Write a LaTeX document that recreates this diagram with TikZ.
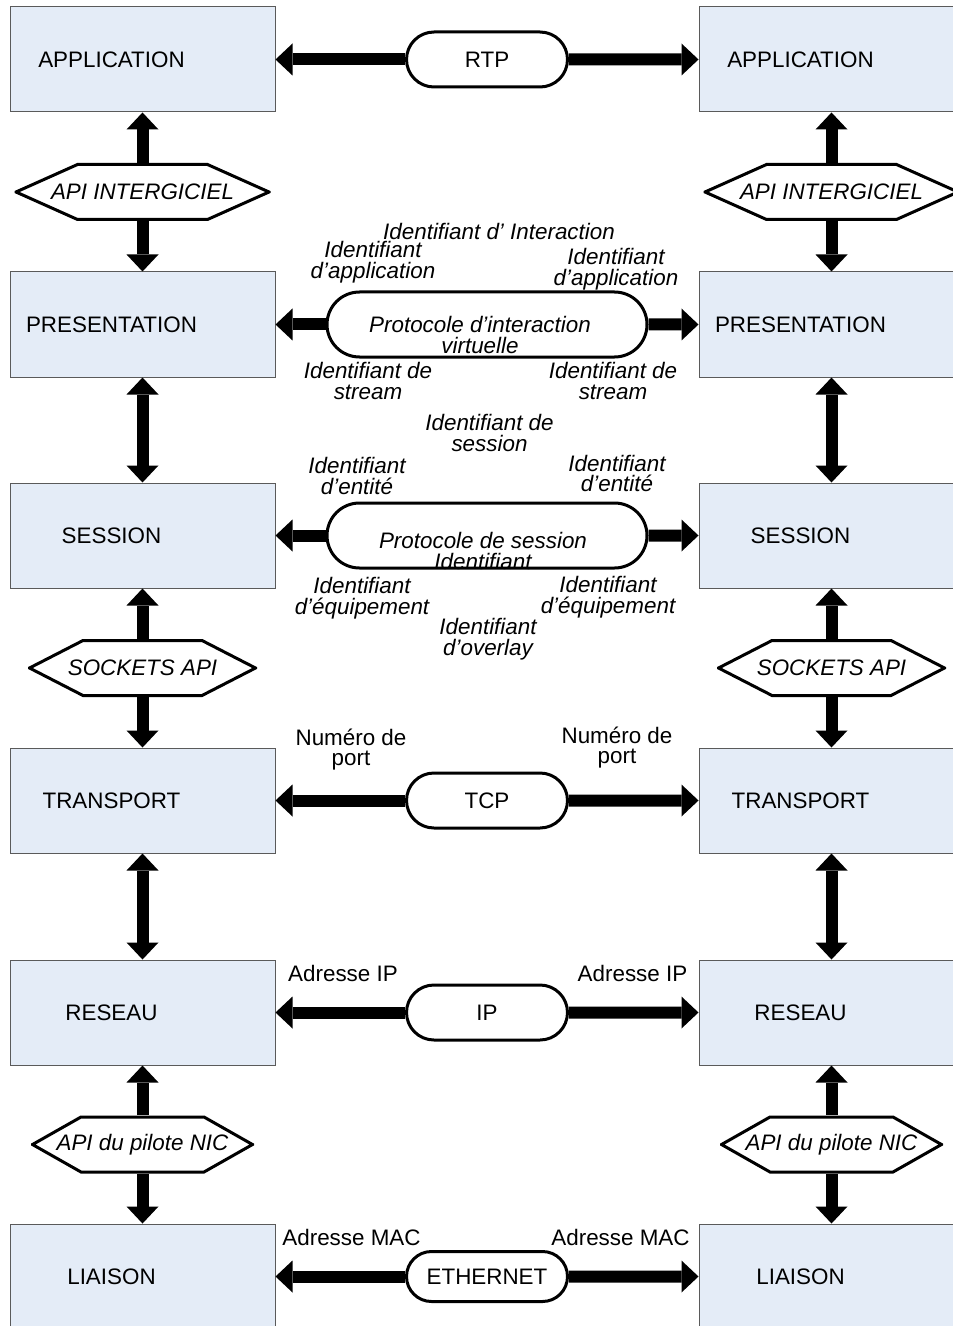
\documentclass[tikz,border=0pt]{standalone}
\usepackage{fontspec}
\setmainfont{Liberation Sans}
\usetikzlibrary{calc,positioning,arrows.meta,shapes.misc}
\definecolor{lyrfill}{RGB}{228,236,247}
\definecolor{lyrdraw}{RGB}{90,90,90}

\begin{document}
\begin{tikzpicture}[x=0.5pt,y=-0.5pt,font=\fontsize{11.2}{10.4}\selectfont]
\tikzstyle{lyr}=[draw=lyrdraw, line width=0.5pt, fill=lyrfill, minimum width=132.5pt, minimum height=52.5pt, inner sep=0pt, execute at end node={\hspace*{31pt}}]
\tikzstyle{proto}=[draw, rounded rectangle, line width=1.5pt, fill=white, minimum width=80.5pt, minimum height=27.5pt, inner sep=0pt]
\tikzset{api/.style={rectangle, minimum height=29pt, inner sep=0pt, font=\fontsize{11.2}{10.4}\selectfont\itshape,
  path picture={\draw[line width=1.5pt, fill=white]
    ([xshift=0.75pt]path picture bounding box.west)
    -- ([xshift=#1, yshift=-0.75pt]path picture bounding box.north west)
    -- ([xshift=-#1, yshift=-0.75pt]path picture bounding box.north east)
    -- ([xshift=-0.75pt]path picture bounding box.east)
    -- ([xshift=-#1, yshift=0.75pt]path picture bounding box.south east)
    -- ([xshift=#1, yshift=0.75pt]path picture bounding box.south west) -- cycle;}}}
\tikzstyle{lbl}=[align=center, inner sep=0pt, font=\fontsize{11.2}{10.4}\selectfont\itshape]
\tikzstyle{nlbl}=[align=center, inner sep=0pt]
\tikzstyle{onehead}=[line width=6pt, -{Triangle[width=16pt,length=8.5pt,line width=0pt]}]
\tikzstyle{twohead}=[line width=6pt, {Triangle[width=16pt,length=8.5pt,line width=0pt]}-{Triangle[width=16pt,length=8.5pt,line width=0pt]}]

\useasboundingbox (0,0) rectangle (952,1326);

% pile de gauche
\node[lyr] (app1) at (142.5,59.5) {APPLICATION};
\node[lyr, node distance=132.5pt, below of=app1] (pres1) {PRESENTATION};
\node[lyr, node distance=105.5pt, below of=pres1] (sess1) {SESSION};
\node[lyr, node distance=132.5pt, below of=sess1] (trans1) {TRANSPORT};
\node[lyr, node distance=106pt, below of=trans1] (res1) {RESEAU};
\node[lyr, node distance=132pt, below of=res1] (lia1) {LIAISON};
% pile de droite
\node[lyr, node distance=344.5pt, right of=app1] (app2) {APPLICATION};
\node[lyr, node distance=344.5pt, right of=pres1] (pres2) {PRESENTATION};
\node[lyr, node distance=344.5pt, right of=sess1] (sess2) {SESSION};
\node[lyr, node distance=344.5pt, right of=trans1] (trans2) {TRANSPORT};
\node[lyr, node distance=344.5pt, right of=res1] (res2) {RESEAU};
\node[lyr, node distance=344.5pt, right of=lia1] (lia2) {LIAISON};

% protocoles
\node[proto] (rtp) at ($(app1)!0.5!(app2)$) {RTP};
\node[proto, minimum width=160pt, minimum height=32.5pt] (piv) at ($(pres1)!0.5!(pres2)$) {};
\node[lbl] (pivtxt) at (480,335) {Protocole d’interaction\\virtuelle};
\node[proto, minimum width=160pt, minimum height=32.5pt] (pses) at ($(sess1)!0.5!(sess2)$) {};
\node[lbl] (psestxt) at (483,551) {Protocole de session\\Identifiant};
\node[proto] (tcp) at ($(trans1)!0.5!(trans2)$) {TCP};
\node[proto] (ip) at ($(res1)!0.5!(res2)$) {IP};
\node[proto, minimum height=25pt] (eth) at ($(lia1)!0.5!(lia2)$) {ETHERNET};

% interfaces
\node[api=31.5pt, minimum width=128pt] (mw1) at ($(app1.south)!0.5!(pres1.north)$) {API INTERGICIEL};
\node[api=31.5pt, minimum width=128pt] (mw2) at ($(app2.south)!0.5!(pres2.north)$) {API INTERGICIEL};
\node[api=27.5pt, minimum width=114.5pt] (sock1) at ($(sess1.south)!0.5!(trans1.north)$) {SOCKETS API};
\node[api=27.5pt, minimum width=114.5pt] (sock2) at ($(sess2.south)!0.5!(trans2.north)$) {SOCKETS API};
\node[api=25pt, minimum width=111.5pt] (nic1) at ($(res1.south)!0.5!(lia1.north)$) {API du pilote NIC};
\node[api=25pt, minimum width=111.5pt] (nic2) at ($(res2.south)!0.5!(lia2.north)$) {API du pilote NIC};

% fleches horizontales
\draw[onehead] (rtp) -- (app1);
\draw[onehead] (rtp) -- (app2);
\draw[onehead] (piv) -- (pres1);
\draw[onehead] (piv) -- (pres2);
\draw[onehead] (pses) -- (sess1);
\draw[onehead] (pses) -- (sess2);
\draw[onehead] (tcp) -- (trans1);
\draw[onehead] (tcp) -- (trans2);
\draw[onehead] (ip) -- (res1);
\draw[onehead] (ip) -- (res2);
\draw[onehead] (eth) -- (lia1);
\draw[onehead] (eth) -- (lia2);

% fleches verticales
\draw[onehead] (mw1) -- (app1);
\draw[onehead] (mw1) -- (pres1);
\draw[onehead] (mw2) -- (app2);
\draw[onehead] (mw2) -- (pres2);
\draw[twohead] (pres1) -- (sess1);
\draw[twohead] (pres2) -- (sess2);
\draw[onehead] (sock1) -- (sess1);
\draw[onehead] (sock1) -- (trans1);
\draw[onehead] (sock2) -- (sess2);
\draw[onehead] (sock2) -- (trans2);
\draw[twohead] (trans1) -- (res1);
\draw[twohead] (trans2) -- (res2);
\draw[onehead] (nic1) -- (res1);
\draw[onehead] (nic1) -- (lia1);
\draw[onehead] (nic2) -- (res2);
\draw[onehead] (nic2) -- (lia2);

% identifiants
\node[lbl] (idint) at (499,232) {Identifiant d’ Interaction};
\node[lbl] (idapp1) at (373,262.5) {Identifiant\\d’application};
\node[lbl] (idapp2) at (616,269) {Identifiant\\d’application};
\node[lbl] (idstr1) at (368,381) {Identifiant de\\stream};
\node[lbl] (idstr2) at (613,381) {Identifiant de\\stream};
\node[lbl] (idses) at (489.5,433) {Identifiant de\\session};
\node[lbl] (ident1) at (357,476) {Identifiant\\d’entité};
\node[lbl] (ident2) at (617,473.5) {Identifiant\\d’entité};
\node[lbl] (ideq1) at (362,598) {Identifiant\\d’équipement};
\node[lbl] (ideq2) at (608,597.5) {Identifiant\\d’équipement};
\node[lbl] (idov) at (488,639) {Identifiant\\d’overlay};
\node[nlbl] (port1) at (351,749.5) {Numéro de\\port};
\node[nlbl] (port2) at (617,747.5) {Numéro de\\port};
\node[nlbl] (adip1) at (343,973) {Adresse IP};
\node[nlbl] (adip2) at (632.5,973) {Adresse IP};
\node[nlbl] (admac1) at (351.5,1237) {Adresse MAC};
\node[nlbl] (admac2) at (620.5,1237) {Adresse MAC};
\end{tikzpicture}
\end{document}
